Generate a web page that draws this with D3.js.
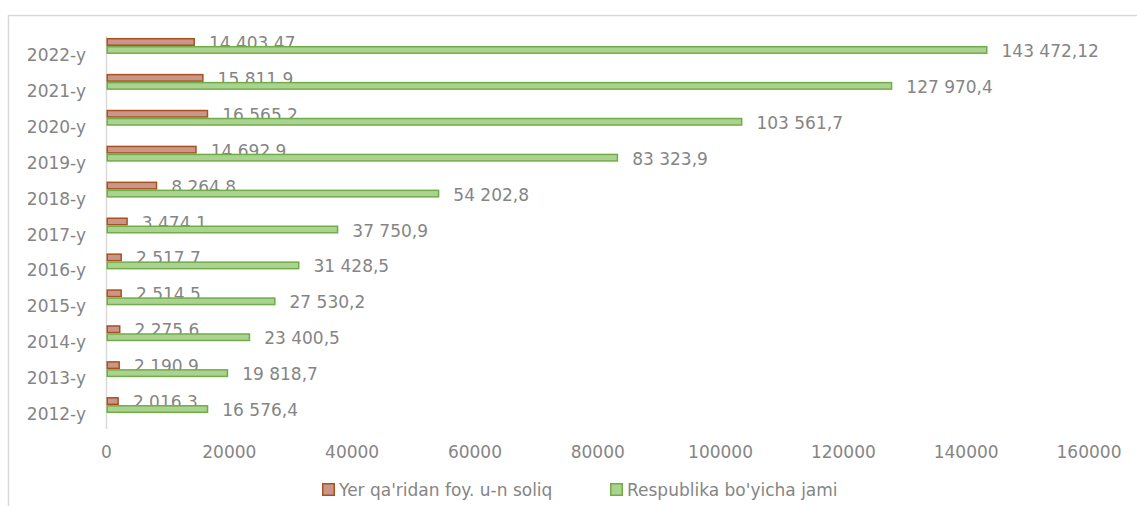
<!DOCTYPE html>
<html><head><meta charset="utf-8">
<script src="https://cdn.jsdelivr.net/npm/d3@7"></script>
<style>html,body{margin:0;padding:0;background:#fff;}svg{display:block;}</style>
</head><body>
<svg id="chart" width="1137" height="506"></svg>
<script>
const categories = ["2012-y","2013-y","2014-y","2015-y","2016-y","2017-y","2018-y","2019-y","2020-y","2021-y","2022-y"];
const seriesNames = ["Yer qa'ridan foy. u-n soliq","Respublika bo'yicha jami"];
const yerSoliq = [2016.3, 2190.9, 2275.6, 2514.5, 2517.7, 3474.1, 8264.8, 14692.9, 16565.2, 15811.9, 14403.47];
const respublikaJami = [16576.4, 19818.7, 23400.5, 27530.2, 31428.5, 37750.9, 54202.8, 83323.9, 103561.7, 127970.4, 143472.12];
const xTicks = [0, 20000, 40000, 60000, 80000, 100000, 120000, 140000, 160000];

const fills = ["#c9968c", "#acd291"];
const strokes = ["#a9521f", "#6fad47"];
const textColor = "#858585";
const font = "'DejaVu Sans', sans-serif";

const svg = d3.select("#chart");
svg.append("rect").attr("x",8.5).attr("y",15.5).attr("width",1140).attr("height",500)
  .attr("fill","none").attr("stroke","#d9d9d9").attr("stroke-width",1.5);

const x = d3.scaleLinear().domain([0,160000]).range([106.5,1089]);
const y = d3.scaleBand().domain(categories.slice().reverse()).range([28,423]).padding(0);
const sub = d3.scaleBand().domain([0,1]).range([-8,8]).padding(0);

function fmt(v){
  const s = v.toString().split(".");
  const intPart = s[0].replace(/\B(?=(\d{3})+(?!\d))/g, " ");
  return s.length>1 ? intPart + "," + s[1] : intPart;
}

// axis line
svg.append("line").attr("x1",x(0)).attr("x2",x(0)).attr("y1",36).attr("y2",429)
  .attr("stroke","#d9d9d9").attr("stroke-width",1.5);

const series = [yerSoliq, respublikaJami];
series.forEach((vals, si) => {
  const g = svg.append("g");
  g.selectAll("rect").data(categories).enter().append("rect")
    .attr("x", x(0)+0.75)
    .attr("y", (c) => y(c) + y.bandwidth()/2 + sub(si) + 0.75)
    .attr("width", (c,i) => Math.max(0, x(vals[i]) - x(0) - 1.5))
    .attr("height", sub.bandwidth() - 1.5)
    .attr("fill", fills[si]).attr("stroke", strokes[si]).attr("stroke-width",1.5);
  g.selectAll("text").data(categories).enter().append("text")
    .attr("x", (c,i) => x(vals[i]) + 14)
    .attr("y", (c) => y(c) + y.bandwidth()/2 + sub(si) + sub.bandwidth()/2 + 1)
    .attr("dominant-baseline","central")
    .attr("font-family",font).attr("font-size",17).attr("fill",textColor)
    .text((c,i) => fmt(vals[i]));
});

// category labels
svg.append("g").selectAll("text").data(categories).enter().append("text")
  .attr("x", 86).attr("y", c => y(c) + y.bandwidth()/2 + 9)
  .attr("text-anchor","end").attr("dominant-baseline","central")
  .attr("font-family",font).attr("font-size",17).attr("fill",textColor)
  .text(c => c);

// x tick labels
svg.append("g").selectAll("text").data(xTicks).enter().append("text")
  .attr("x", d => x(d)).attr("y", 452)
  .attr("text-anchor","middle").attr("dominant-baseline","central")
  .attr("font-family",font).attr("font-size",17).attr("fill",textColor)
  .text(d => d);

// legend
const legendX = [322, 610];
seriesNames.forEach((n, i) => {
  svg.append("rect").attr("x", legendX[i]+0.75).attr("y", 483.75).attr("width", 11.5).attr("height", 11.5)
    .attr("fill", fills[i]).attr("stroke", strokes[i]).attr("stroke-width",1.5);
  svg.append("text").attr("x", legendX[i]+17).attr("y", 489.5)
    .attr("dominant-baseline","central")
    .attr("font-family",font).attr("font-size",17).attr("fill",textColor)
    .text(n);
});
</script>
</body></html>
